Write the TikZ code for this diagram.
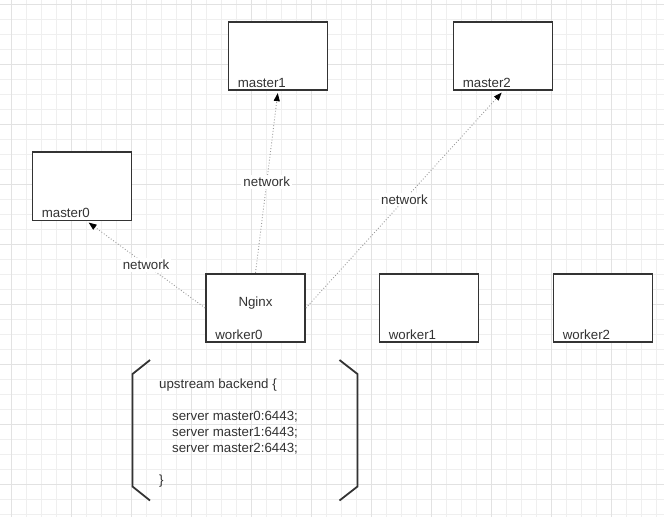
\documentclass[tikz,border=0pt]{standalone}
\usepackage{fontspec}
\setmainfont{Liberation Sans}
\usetikzlibrary{arrows.meta}
\definecolor{ink}{HTML}{333333}
\definecolor{gridminor}{HTML}{EFEFEF}
\definecolor{gridmajor}{HTML}{E2E2E2}
\definecolor{wire}{HTML}{9A9A9A}
\begin{document}
\begin{tikzpicture}[x=1pt, y=-1pt,
  host/.style={draw=ink, line width=1.8pt, fill=white, minimum width=99pt, minimum height=68.5pt, inner sep=0pt},
  tag/.style={text=ink, font=\fontsize{13.3}{15}\selectfont, inner sep=0pt, anchor=base west},
  net/.style={draw=wire, dotted, line width=0.9pt, -{Triangle[width=6pt,length=8pt,color=black]}, shorten >=2pt},
  netlbl/.style={fill=white, text=ink, font=\fontsize{13.3}{15}\selectfont, inner sep=2pt},
  bracket/.style={draw=ink, line width=1.8pt}]
\useasboundingbox (0,0) rectangle (664,517);
% background grid
\foreach \gx in {11.7,26.7,...,664} \draw[gridminor, line width=0.8pt] (\gx,0) -- (\gx,517);
\foreach \gy in {4,19,...,517} \draw[gridminor, line width=0.8pt] (0,\gy) -- (664,\gy);
\foreach \gx in {11.7,71.7,...,664} \draw[gridmajor, line width=0.8pt] (\gx,0) -- (\gx,517);
\foreach \gy in {4,64,...,517} \draw[gridmajor, line width=0.8pt] (0,\gy) -- (664,\gy);

% hosts
\node[host] (master0) at (82,186.2) {};
\node[host] (master1) at (278,56) {};
\node[host] (master2) at (503,56) {};
\node[host] (worker0) at (255.5,308) {};
\node[host] (worker1) at (429,308) {};
\node[host] (worker2) at (603,308) {};
\node[text=ink, font=\fontsize{13.3}{15}\selectfont, inner sep=0pt] (nginx) at ([yshift=4.5pt]worker0.center) {Nginx};

\foreach \h in {master0,master1,master2,worker0,worker1,worker2}
  \node[tag] (\h-lbl) at ([xshift=10pt,yshift=3.5pt]\h.south west) {\h};

% links
\draw[net] (worker0.west) -- node[netlbl] (net0) {network} ([xshift=5pt]master0.south);
\draw[net] (worker0.north) -- node[netlbl] (net1) {network} (master1.south);
\draw[net] (worker0.east) -- node[netlbl] (net2) {network} (master2.south);

% nginx config
\node[text=ink, font=\fontsize{13.3}{16}\selectfont, align=left, anchor=north west, inner sep=0pt] (conf) at (159,379)
  {upstream backend \{\\[16pt]
   \hspace*{13pt}server master0:6443;\\
   \hspace*{13pt}server master1:6443;\\
   \hspace*{13pt}server master2:6443;\\[16pt]
   \}};
\draw[bracket] (150,360) -- (132.5,374) -- (132.5,486.5) -- (150,500.5);
\draw[bracket] (339.5,360) -- (357.5,374) -- (357.5,486.5) -- (339.5,500.5);
\end{tikzpicture}
\end{document}
